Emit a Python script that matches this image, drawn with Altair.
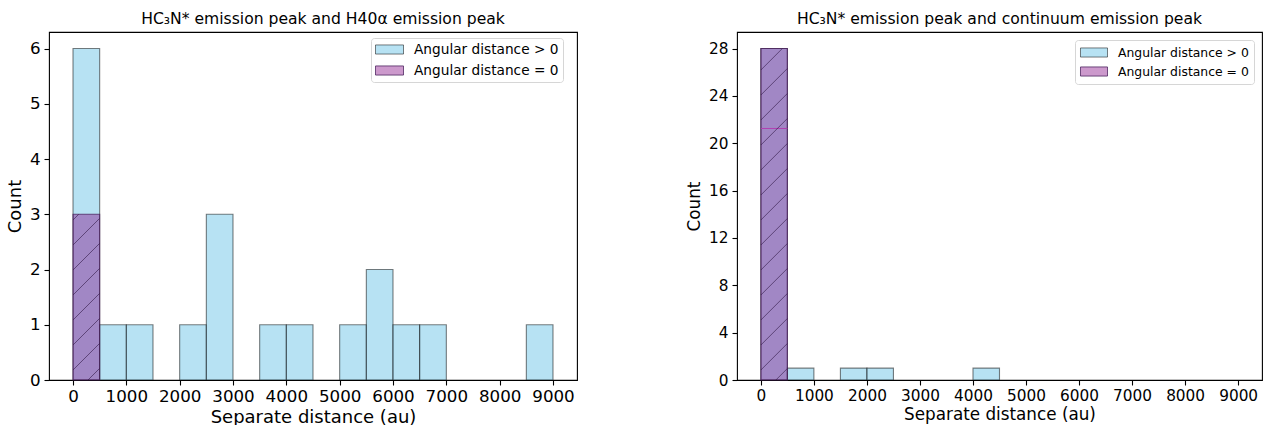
import altair as alt
import pandas as pd

# ---------------- data ----------------
bin_edges = [0, 500, 1000, 1500, 2000, 2500, 3000, 3500, 4000, 4500,
             5000, 5500, 6000, 6500, 7000, 7500, 8000, 8500, 9000]
x_ticks = [0, 1000, 2000, 3000, 4000, 5000, 6000, 7000, 8000, 9000]

left_title = "HC\u2083N* emission peak and H40\u03b1 emission peak"
left_gt0 = [6, 1, 1, 0, 1, 3, 0, 1, 1, 0, 1, 2, 1, 1, 0, 0, 0, 1]
left_eq0 = [3, 0, 0, 0, 0, 0, 0, 0, 0, 0, 0, 0, 0, 0, 0, 0, 0, 0]
left_yticks = [0, 1, 2, 3, 4, 5, 6]
left_inner_lines = []

right_title = "HC\u2083N* emission peak and continuum emission peak"
right_gt0 = [28, 1, 0, 1, 1, 0, 0, 0, 1, 0, 0, 0, 0, 0, 0, 0, 0, 0]
right_eq0 = [28, 0, 0, 0, 0, 0, 0, 0, 0, 0, 0, 0, 0, 0, 0, 0, 0, 0]
right_yticks = [0, 4, 8, 12, 16, 20, 24, 28]
# thin magenta edge visible inside the first bar (bin 0)
right_inner_lines = [21.25]

series_labels = ["Angular distance > 0", "Angular distance = 0"]

# ---------------- styles ----------------
FONT = "DejaVu Sans"
FILLS = ["rgba(135,206,235,0.6)", "rgba(128,0,128,0.4)"]
STROKES = ["rgba(0,0,0,0.5)", "rgba(70,30,90,0.75)"]
HATCH_COLOR = "rgba(50,25,70,0.6)"
XDOM = [-450, 9450]
W_LEFT, W_RIGHT, H = 528, 525, 348


def bars_frame(gt, eq):
    rows = []
    for lab, counts in zip(series_labels, [gt, eq]):
        for i, c in enumerate(counts):
            if c > 0:
                rows.append(dict(series=lab, x0=bin_edges[i], x1=bin_edges[i + 1],
                                 count=c, base=0))
    return pd.DataFrame(rows)


def hatch_frame(eq, ydom, w, h, spacing_px=25.0, phase_px=10.0):
    """45-degree '/' hatch segments inside the 'distance = 0' bars."""
    pxx = w / (XDOM[1] - XDOM[0])
    pxy = h / (ydom[1] - ydom[0])
    s = pxx / pxy
    d = spacing_px / pxy
    ph = phase_px / pxy
    rows = []
    for i, c in enumerate(eq):
        if c <= 0:
            continue
        x0, x1 = bin_edges[i], bin_edges[i + 1]
        bw = x1 - x0
        n_lo = int(-(s * bw) // d) - 2
        n_hi = int(c // d) + 2
        for n in range(n_lo, n_hi + 1):
            k = ph + n * d
            xa = max(0.0, (0 - k) / s)
            xb = min(bw, (c - k) / s)
            if xb - xa > 1e-6:
                rows.append(dict(x0=x0 + xa, count=k + s * xa, x1=x0 + xb, y2=k + s * xb))
    return pd.DataFrame(rows)


def panel(title, gt, eq, inner, ydom, yticks, w, tick_fs, title_fs, axis_title_fs,
          legend_fs, legend_x, legend_y, title_dx, leg_pad, leg_row_pad, sym_w, gap):
    bars = bars_frame(gt, eq)
    hatch = hatch_frame(eq, ydom, w, H)
    xsc = alt.Scale(domain=XDOM, nice=False, zero=False)
    ysc = alt.Scale(domain=ydom, nice=False, zero=False)
    xaxis = alt.Axis(values=x_ticks, title="Separate distance (au)", grid=False,
                     domain=False, tickColor="black", tickSize=5, tickWidth=1.1,
                     labelFont=FONT, labelFontSize=tick_fs, labelColor="black",
                     labelPadding=3.5, titleFont=FONT, titleFontSize=axis_title_fs,
                     titleFontWeight="normal", titleColor="black", titlePadding=3,
                     format="d", labelFlush=False)
    yaxis = alt.Axis(values=yticks, title="Count", grid=False, domain=False,
                     tickColor="black", tickSize=5, tickWidth=1.1, labelFont=FONT,
                     labelFontSize=tick_fs, labelColor="black", labelPadding=4,
                     titleFont=FONT, titleFontSize=axis_title_fs,
                     titleFontWeight="normal", titleColor="black", titlePadding=5,
                     format="d", labelFlush=False)
    # symbol size 196 -> unit scale 7 px; path spans sym_w px wide, 9 px tall
    hw = sym_w / 14.0
    sym_path = f"M-{hw:.3f},-0.65H{hw:.3f}V0.65H-{hw:.3f}Z"
    leg = alt.Legend(title=None, orient="none", legendX=legend_x, legendY=legend_y,
                     labelFont=FONT, labelFontSize=legend_fs, labelColor="black",
                     symbolType=sym_path, symbolSize=196, symbolStrokeWidth=1,
                     symbolOffset=sym_w / 2 - 7,
                     labelOffset=sym_w / 2 + gap - 7, padding=leg_pad,
                     rowPadding=leg_row_pad,
                     fillColor="white", strokeColor="#d6d6d6", cornerRadius=3)
    X = alt.X("x0:Q", scale=xsc, axis=xaxis)
    Y = alt.Y("count:Q", scale=ysc, axis=yaxis)
    rect = alt.Chart(bars).mark_rect(strokeWidth=1.1).encode(
        x=X, x2="x1:Q", y=Y, y2="base:Q",
        fill=alt.Fill("series:N", scale=alt.Scale(domain=series_labels, range=FILLS),
                      legend=leg),
        stroke=alt.Stroke("series:N", scale=alt.Scale(domain=series_labels, range=STROKES),
                          legend=leg),
    )
    layers = [rect]
    if inner:
        inner_df = pd.DataFrame({"count": inner, "x0": [bin_edges[0]] * len(inner),
                                 "x1": [bin_edges[1]] * len(inner)})
        layers.append(alt.Chart(inner_df).mark_rule(color="#b040b0", strokeWidth=1).encode(
            x=X, x2="x1:Q", y=Y))
    layers.append(alt.Chart(hatch).mark_rule(color=HATCH_COLOR, strokeWidth=1).encode(
        x=X, y=Y, x2="x1:Q", y2="y2:Q"))
    return alt.layer(*layers).properties(
        width=w, height=H,
        title=alt.TitleParams(title, font=FONT, fontSize=title_fs, fontWeight="normal",
                              color="black", anchor="middle", offset=4, dx=title_dx),
    )


left = panel(left_title, left_gt0, left_eq0, left_inner_lines, [0, 6.3], left_yticks,
             W_LEFT, 16.7, 15.6, 18, 13.7, 322, 6, 10, 4, 6, 28, 10)
right = panel(right_title, right_gt0, right_eq0, right_inner_lines, [0, 29.4], right_yticks,
              W_RIGHT, 15.3, 15.6, 16.8, 12.4, 338, 8, 0, 5, 4, 27, 10)

chart = alt.hconcat(left, right, spacing=107).resolve_scale(
    x="independent", y="independent", fill="independent", stroke="independent"
).resolve_legend(fill="independent", stroke="independent").properties(
    padding={"left": 5, "top": 11, "right": 0, "bottom": 0},
    background="white",
).configure_view(stroke="black", strokeWidth=1.1)

chart.save("out.html", embed_options={"renderer": "svg", "actions": False})
